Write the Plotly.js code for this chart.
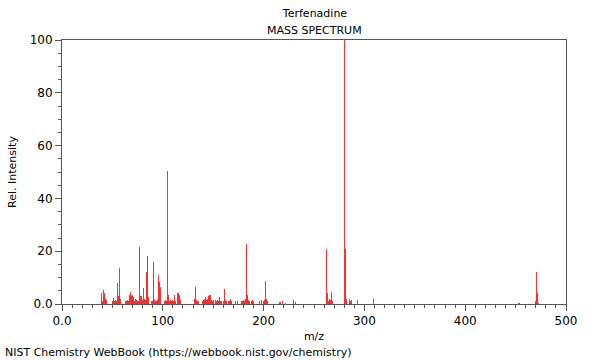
<!DOCTYPE html>
<html>
<head>
<meta charset="utf-8">
<script src="https://cdn.plot.ly/plotly-3.0.1.min.js"></script>
<style>html,body{margin:0;padding:0;background:#fff;}#chart{width:600px;height:360px;}</style>
</head>
<body>
<div id="chart"></div>
<script>
// m/z values and relative intensities
const mz = [39,40,41,42,43,44,
  50,51,52,53,54,55,56,57,58,
  63,64,65,66,67,68,69,70,71,72,73,74,75,76,
  77,78,79,80,81,82,83,84,85,86,
  89,90,91,92,93,94,95,96,97,98,
  102,103,104,105,106,107,108,109,110,111,112,113,
  115,116,117,118,119,120,121,122,123,124,125,126,
  127,128,129,130,131,132,133,134,135,
  139,140,141,142,143,144,145,146,147,148,149,150,
  152,153,154,155,156,157,158,160,161,162,163,165,166,167,168,
  172,174,178,179,180,181,182,183,184,185,186,188,189,190,
  196,198,200,201,202,203,204,
  216,217,219,222,230,232,246,248,249,
  262,263,264,265,266,267,268,
  280,281,282,285,286,287,293,309,
  453,454,470,471,472,473];
const intensity = [4,1,5.3,4,2,1.5,
  1,2.2,1,1.5,1,8,3,13.6,2,
  1,1,1.5,1,3.5,4.5,3,3.5,2.5,1,2,1.5,1,1,
  21.5,3,3,1.5,6,2,1.5,12,18,2.5,
  1,1,16,1.5,1,1,1.5,11,8.5,6.5,
  1,1.5,1,50.5,3.5,1,1.5,1,1.5,1,3.5,1,
  4,4,3.5,1.5,2,1,1,1.5,1.5,1,1.5,2,
  3.5,4.5,3.5,4,2,6.3,1.5,1,1,
  1,1.5,2,2.5,1.5,2,3,3.5,3.5,1.5,1,1.5,
  1.5,1,1.5,1,2.5,1,1,1,5.8,1.5,1,1,1,2,1,
  1,1,1,1,1.5,1,2,22.7,3.5,1.5,1,1,1.5,1,
  1,1.5,1,1.5,8.7,2,1,
  0.7,0.7,1,0.5,1.5,0.7,1,2,1,
  21,4,1,2,1.5,4.5,1,
  100,20.8,2,2,1,1.5,1.5,2,
  0.5,0.3,1,12,4,0.5];

const xTickVals = [0,100,200,300,400,500];
const xTickText = ['0.0','100','200','300','400','500'];
const yTickVals = [0,20,40,60,80,100];
const yTickText = ['0.0','20','40','60','80','100'];

const axisColor = '#555';
const fontFam = 'DejaVu Sans, sans-serif';

const trace = {
  type: 'bar',
  x: mz,
  y: intensity,
  width: 0.9,
  marker: {color: 'rgb(255,45,45)', line: {width: 0}},
  hoverinfo: 'x+y'
};

const layout = {
  width: 600, height: 360,
  margin: {l: 62, r: 34, t: 40, b: 56},
  paper_bgcolor: '#fff', plot_bgcolor: '#fff',
  font: {family: fontFam, size: 11, color: '#000'},
  showlegend: false,
  bargap: 0,
  title: {text: 'Terfenadine', font: {family: fontFam, size: 11, color: '#000'},
          x: 0.525, xanchor: 'center', y: 1 - 13/360, yanchor: 'middle', yref: 'container'},
  xaxis: {
    range: [0, 500], tickmode: 'array', tickvals: xTickVals, ticktext: xTickText,
    ticks: 'outside', ticklen: 6, tickcolor: axisColor, tickwidth: 1,
    showline: true, linecolor: axisColor, linewidth: 1, mirror: true,
    showgrid: false, zeroline: false,
    tickfont: {family: fontFam, size: 12, color: '#000'},
    minor: {tickmode: 'linear', tick0: 0, dtick: 10, ticks: 'outside', ticklen: 3, tickcolor: axisColor, showgrid: false},
    title: {text: 'm/z', font: {family: fontFam, size: 11, color: '#000'}, standoff: 4},
    automargin: false, fixedrange: true
  },
  yaxis: {
    range: [0, 100], tickmode: 'array', tickvals: yTickVals, ticktext: yTickText,
    ticks: 'outside', ticklen: 6, tickcolor: axisColor, tickwidth: 1,
    showline: true, linecolor: axisColor, linewidth: 1, mirror: true,
    showgrid: false, zeroline: false,
    tickfont: {family: fontFam, size: 12, color: '#000'},
    minor: {tickmode: 'linear', tick0: 0, dtick: 5, ticks: 'outside', ticklen: 3, tickcolor: axisColor, showgrid: false},
    title: {text: 'Rel. Intensity', font: {family: fontFam, size: 11, color: '#000'}, standoff: 10},
    automargin: false, fixedrange: true
  },
  annotations: [
    {text: 'MASS SPECTRUM', xref: 'paper', yref: 'paper', x: 0.5, y: 1, xanchor: 'center', yanchor: 'bottom', yshift: 1,
     showarrow: false, font: {family: fontFam, size: 11, color: '#000'}},
    {text: 'NIST Chemistry WebBook (https://webbook.nist.gov/chemistry)', xref: 'paper', yref: 'paper',
     x: (3 - 62) / 504, y: (304 - 352) / 264, xanchor: 'left', yanchor: 'middle',
     showarrow: false, font: {family: fontFam, size: 11, color: '#000'}}
  ]
};

Plotly.newPlot('chart', [trace], layout, {displayModeBar: false, staticPlot: true});
</script>
</body>
</html>
